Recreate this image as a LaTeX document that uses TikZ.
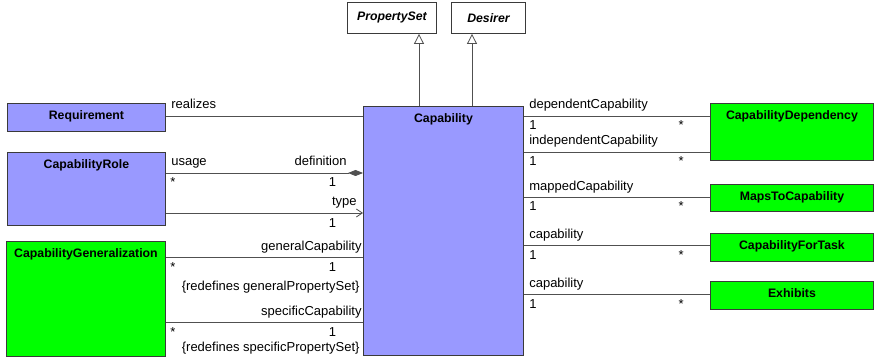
\documentclass[tikz,border=0pt]{standalone}
\usepackage{fontspec}
\setmainfont{Liberation Sans}
\usetikzlibrary{arrows.meta, positioning}
\definecolor{ClassLav}{HTML}{9999FF}
\definecolor{ClassGreen}{HTML}{00FF00}
\definecolor{EdgeGray}{HTML}{3A3A3A}
\definecolor{LineGray}{HTML}{505050}
\newcommand{\umlfont}{\fontsize{12.3}{14}\selectfont}
\newcommand{\rolefont}{\fontsize{13}{15}\selectfont}

\begin{document}
\begin{tikzpicture}[
    x=1pt, y=-1pt,
    cls/.style={
      rectangle, draw=EdgeGray, line width=0.9pt,
      inner sep=0pt, anchor=north west
    },
    lavcls/.style={cls, fill=ClassLav},
    grncls/.style={cls, fill=ClassGreen},
    abscls/.style={cls, fill=white, font=\umlfont\bfseries\itshape},
    clsname/.style={font=\umlfont\bfseries, anchor=base, yshift=-16.5pt},
    assoc/.style={draw=LineGray, line width=0.8pt},
    genarr/.style={assoc, -{Triangle[open, length=10pt, width=10pt]}},
    lbl/.style={font=\rolefont, inner sep=0pt},
    srcabove/.style={lbl, anchor=base west, xshift=5pt, yshift=7pt},
    srcbelow/.style={lbl, anchor=base west, xshift=4pt, yshift=-14pt},
    dstabove/.style={lbl, anchor=base east, yshift=7pt},
    dstbelow/.style={lbl, anchor=base east, xshift=-26.5pt, yshift=-14pt},
    rgtstar/.style={lbl, anchor=base east, xshift=-26pt, yshift=-14pt}
  ]
  \useasboundingbox (0,0) rectangle (875,358);

  % classes
  \node[abscls, minimum width=89pt, minimum height=31pt] (propset) at (347,2) {PropertySet};
  \node[abscls, minimum width=74pt, minimum height=31pt] (desirer) at (451,2) {Desirer};
  \node[lavcls, minimum width=160pt, minimum height=249pt,
        label={[clsname]north:Capability}] (cap) at (363,106) {};
  \node[lavcls, minimum width=158pt, minimum height=28pt,
        label={[clsname]north:Requirement}] (req) at (7,103) {};
  \node[lavcls, minimum width=158pt, minimum height=73pt,
        label={[clsname]north:CapabilityRole}] (role) at (7,152) {};
  \node[grncls, minimum width=159pt, minimum height=115pt,
        label={[clsname]north:CapabilityGeneralization}] (gen) at (6,241) {};
  \node[grncls, minimum width=163pt, minimum height=57pt,
        label={[clsname]north:CapabilityDependency}] (dep) at (710,103) {};
  \node[grncls, minimum width=163pt, minimum height=27pt,
        label={[clsname]north:MapsToCapability}] (maps) at (710,184) {};
  \node[grncls, minimum width=163pt, minimum height=28pt,
        label={[clsname]north:CapabilityForTask}] (task) at (710,233) {};
  \node[grncls, minimum width=163pt, minimum height=28pt,
        label={[clsname]north:Exhibits}] (exh) at (710,281) {};

  % line levels
  \coordinate (propX) at (419,0);
  \coordinate (desX)  at (472,0);
  \coordinate (realY) at (0,116);
  \coordinate (useY)  at (0,173);
  \coordinate (typeY) at (0,213);
  \coordinate (genY)  at (0,257);
  \coordinate (specY) at (0,322);
  \coordinate (depY)  at (0,116);
  \coordinate (indY)  at (0,152);
  \coordinate (mapY)  at (0,197);
  \coordinate (taskY) at (0,245);
  \coordinate (exhY)  at (0,294);

  % generalizations
  \draw[genarr] (cap.north -| propX) -- (propset.south -| propX);
  \draw[genarr] (cap.north -| desX) -- (desirer.south -| desX);

  % left side
  \draw[assoc] (req.east |- realY) --
    node[at start, srcabove] {realizes} (cap.west |- realY);
  \draw[assoc, -{Diamond[length=15pt, width=6pt]}] (role.east |- useY) --
    node[at start, srcabove] {usage}
    node[at start, srcbelow] {*}
    node[at end, dstabove, xshift=-16pt] {definition}
    node[at end, dstbelow] {1} (cap.west |- useY);
  \draw[assoc, -{Straight Barb[length=6pt, width=8pt]}] (role.east |- typeY) --
    node[at end, dstabove, xshift=-6pt] {type}
    node[at end, dstbelow] {1} (cap.west |- typeY);
  \draw[assoc] (gen.east |- genY) --
    node[at start, srcbelow] {*}
    node[at end, dstabove, xshift=-1pt] {generalCapability}
    node[at end, dstbelow] {1}
    node[at end, lbl, anchor=base east, xshift=-3pt, yshift=-33pt]
      {\{redefines generalPropertySet\}} (cap.west |- genY);
  \draw[assoc] (gen.east |- specY) --
    node[at start, srcbelow] {*}
    node[at end, dstabove, xshift=-1pt] {specificCapability}
    node[at end, dstbelow] {1}
    node[at end, lbl, anchor=base east, xshift=-3pt, yshift=-29pt]
      {\{redefines specificPropertySet\}} (cap.west |- specY);

  % right side
  \draw[assoc] (cap.east |- depY) --
    node[at start, srcabove] {dependentCapability}
    node[at start, srcbelow, xshift=1pt] {1}
    node[at end, rgtstar] {*} (dep.west |- depY);
  \draw[assoc] (cap.east |- indY) --
    node[at start, srcabove] {independentCapability}
    node[at start, srcbelow, xshift=1pt] {1}
    node[at end, rgtstar] {*} (dep.west |- indY);
  \draw[assoc] (cap.east |- mapY) --
    node[at start, srcabove] {mappedCapability}
    node[at start, srcbelow, xshift=1pt] {1}
    node[at end, rgtstar] {*} (maps.west |- mapY);
  \draw[assoc] (cap.east |- taskY) --
    node[at start, srcabove] {capability}
    node[at start, srcbelow, xshift=1pt] {1}
    node[at end, rgtstar] {*} (task.west |- taskY);
  \draw[assoc] (cap.east |- exhY) --
    node[at start, srcabove] {capability}
    node[at start, srcbelow, xshift=1pt] {1}
    node[at end, rgtstar] {*} (exh.west |- exhY);
\end{tikzpicture}
\end{document}
